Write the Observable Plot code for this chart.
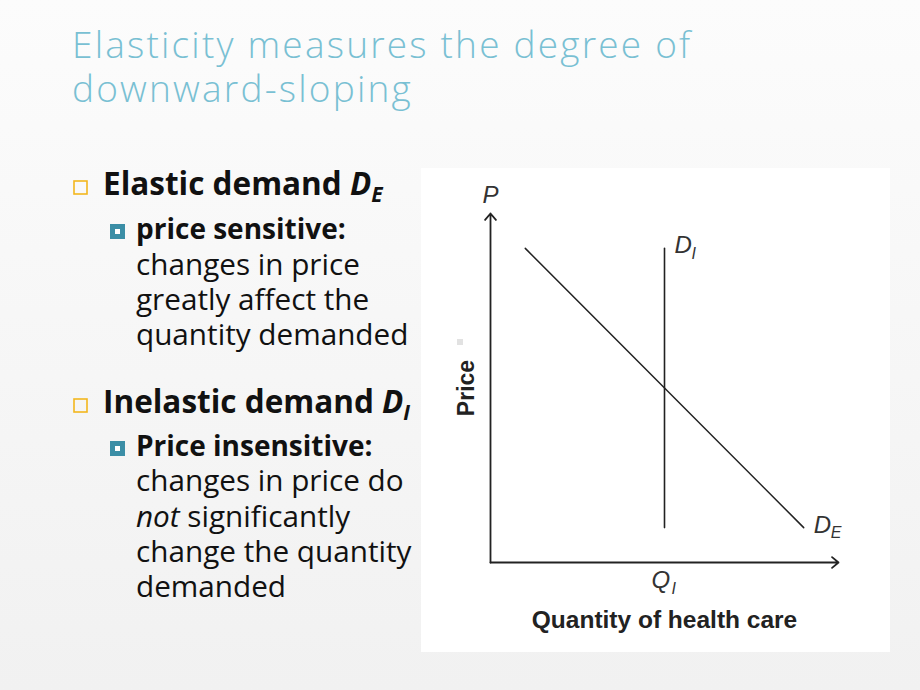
<!DOCTYPE html>
<html>
<head>
<meta charset="utf-8">
<script src="https://cdn.jsdelivr.net/npm/d3@7"></script>
<script src="https://cdn.jsdelivr.net/npm/@observablehq/plot@0.6"></script>
<style>
  html, body { margin: 0; padding: 0; }
  #slide { position: relative; width: 920px; height: 690px; overflow: hidden;
           background: linear-gradient(#fcfcfc, #f1f1f1); }
  #slidetext { position: absolute; left: 0; top: 0; }
  #chart { position: absolute; left: 421px; top: 168px; width: 469px; height: 484px; background: #fff; }
  #speck { position: absolute; left: 457px; top: 339px; width: 6px; height: 6px; background: #e2e2e2; }
</style>
</head>
<body>
<div id="slide">
  <svg id="slidetext" width="920" height="690"></svg>
  <div id="chart"></div>
  <div id="speck"></div>
</div>
<script>
// ---------- data ----------
const titleLines = ["Elasticity measures the degree of", "downward-sloping"];

// elastic demand curve D_E (quantity, price)
const deQuantity = [1, 9];
const dePrice = [9, 1];
// inelastic demand curve D_I
const diQuantity = [5, 5];
const diPrice = [9, 1];
// axis extent and marked quantity
const axisMax = 10;
const qiValue = 5;

const xAxisLabel = "Quantity of health care";
const yAxisLabel = "Price";

// ---------- slide text ----------
const svg = d3.select("#slidetext");
const titleG = svg.append("g")
  .attr("font-family", "'Open Sans', sans-serif")
  .attr("font-weight", 300)
  .attr("font-size", 37)
  .attr("letter-spacing", "2.2px")
  .attr("fill", "#79c0d3");
titleLines.forEach((t, i) => {
  titleG.append("text").attr("x", 72).attr("y", 58 + i * 44).text(t);
});

const textG = svg.append("g").attr("font-family", "'Open Sans', sans-serif").attr("fill", "#111");

function level1(y, label, sub) {
  textG.append("rect").attr("x", 74).attr("y", y - 14).attr("width", 13).attr("height", 13)
    .attr("fill", "none").attr("stroke", "#f3b71e").attr("stroke-width", 1.6);
  const t = textG.append("text").attr("x", 103).attr("y", y)
    .attr("font-size", 31.5).attr("font-weight", 700);
  t.append("tspan").text(label + " ");
  t.append("tspan").attr("font-style", "italic").text("D");
  t.append("tspan").attr("font-style", "italic").attr("font-size", 21).attr("dy", 7).text(sub);
}
function level2(y, label) {
  textG.append("rect").attr("x", 110).attr("y", y - 15).attr("width", 15).attr("height", 15)
    .attr("fill", "#3b8ea6");
  textG.append("rect").attr("x", 115).attr("y", y - 10).attr("width", 5).attr("height", 5)
    .attr("fill", "#fff");
  textG.append("text").attr("x", 136).attr("y", y)
    .attr("font-size", 28).attr("font-weight", 700).text(label);
}
function body(y, parts) {
  const t = textG.append("text").attr("x", 136).attr("y", y).attr("font-size", 29.7);
  parts.forEach(p => {
    const s = t.append("tspan").text(p.t);
    if (p.i) s.attr("font-style", "italic");
  });
}

level1(195, "Elastic demand", "E");
level2(239, "price sensitive:");
body(275, [{t: "changes in price"}]);
body(310, [{t: "greatly affect the"}]);
body(345, [{t: "quantity demanded"}]);
level1(413, "Inelastic demand", "I");
level2(456, "Price insensitive:");
body(491, [{t: "changes in price do"}]);
body(527, [{t: "not", i: true}, {t: " significantly"}]);
body(562, [{t: "change the quantity"}]);
body(597, [{t: "demanded"}]);

// ---------- chart ----------
const de = deQuantity.map((q, i) => ({q, p: dePrice[i]}));
const di = diQuantity.map((q, i) => ({q, p: diPrice[i]}));
const axes = [
  {x1: 0, y1: 0, x2: axisMax, y2: 0},
  {x1: 0, y1: 0, x2: 0, y2: axisMax}
];
const labelFont = {fontFamily: "'Liberation Sans', Arial, sans-serif", fontStyle: "italic", fill: "#333", textAnchor: "start", lineAnchor: "bottom"};

const chart = Plot.plot({
  width: 469,
  height: 484,
  marginLeft: 69,
  marginRight: 52,
  marginTop: 45,
  marginBottom: 90,
  x: {domain: [0, axisMax], axis: null},
  y: {domain: [0, axisMax], axis: null},
  style: {background: "transparent", overflow: "visible", fontFamily: "'Liberation Sans', Arial, sans-serif"},
  marks: [
    Plot.arrow(axes, {x1: "x1", y1: "y1", x2: "x2", y2: "y2", stroke: "#222", strokeWidth: 1.8, headLength: 7, headAngle: 80}),
    Plot.line(de, {x: "q", y: "p", stroke: "#222", strokeWidth: 1.5}),
    Plot.line(di, {x: "q", y: "p", stroke: "#222", strokeWidth: 1.6}),
    // P label at top of price axis
    Plot.text([{q: 0, p: axisMax}], {x: "q", y: "p", text: () => "P", dx: -8, dy: -11, fontSize: 24, ...labelFont}),
    // D_I label at top of inelastic curve
    Plot.text([di[0]], {x: "q", y: "p", text: () => "D", dx: 10, dy: 5, fontSize: 24, ...labelFont}),
    Plot.text([di[0]], {x: "q", y: "p", text: () => "I", dx: 27, dy: 11, fontSize: 16, ...labelFont}),
    // D_E label at bottom of elastic curve
    Plot.text([de[1]], {x: "q", y: "p", text: () => "D", dx: 10, dy: 5, fontSize: 24, ...labelFont}),
    Plot.text([de[1]], {x: "q", y: "p", text: () => "E", dx: 27, dy: 10, fontSize: 16, ...labelFont}),
    // Q_I tick label
    Plot.text([{q: qiValue, p: 0}], {x: "q", y: "p", text: () => "Q", dx: -13, dy: 25, fontSize: 24, ...labelFont}),
    Plot.text([{q: qiValue, p: 0}], {x: "q", y: "p", text: () => "I", dx: 7, dy: 31, fontSize: 16, ...labelFont}),
    // axis titles
    Plot.text([{q: axisMax / 2, p: 0}], {x: "q", y: "p", text: () => xAxisLabel, dy: 65, fontSize: 24.5, fontWeight: "bold", fill: "#222", lineAnchor: "bottom", textAnchor: "middle"}),
    Plot.text([{q: 0, p: axisMax / 2}], {x: "q", y: "p", text: () => yAxisLabel, dx: -17, rotate: -90, fontSize: 23, fontWeight: "bold", fill: "#222", lineAnchor: "bottom", textAnchor: "middle"})
  ]
});
document.getElementById("chart").appendChild(chart);
</script>
</body>
</html>
